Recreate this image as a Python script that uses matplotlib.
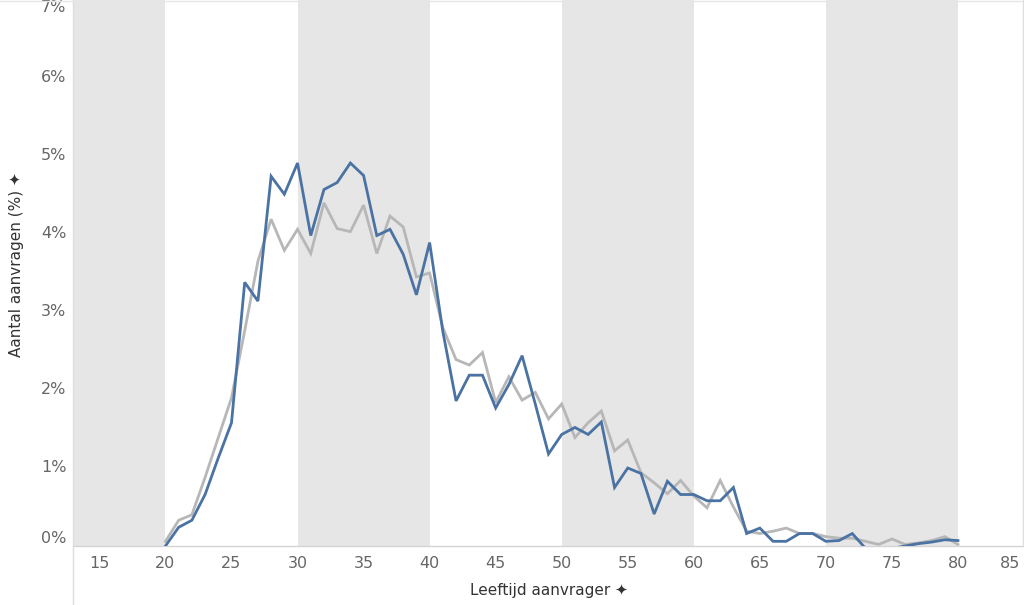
import matplotlib
matplotlib.use("Agg")
import matplotlib.pyplot as plt
from matplotlib.lines import Line2D

ages = list(range(20, 81))
blue_values = [0.00, 0.24, 0.33, 0.66, 1.13, 1.58, 3.38, 3.14, 4.74, 4.51,
               4.91, 3.98, 4.57, 4.66, 4.91, 4.75, 3.98, 4.06, 3.74, 3.22,
               3.89, 2.75, 1.86, 2.19, 2.19, 1.77, 2.07, 2.44, 1.82, 1.18,
               1.43, 1.52, 1.43, 1.59, 0.75, 1.00, 0.93, 0.41, 0.83, 0.66,
               0.66, 0.58, 0.58, 0.75, 0.16, 0.23, 0.06, 0.06, 0.16, 0.16,
               0.06, 0.07, 0.16, -0.03, -0.03, -0.03, 0.00, 0.03, 0.05, 0.08,
               0.07]
gray_values = [0.06, 0.33, 0.40, 0.88, 1.39, 1.90, 2.76, 3.65, 4.19, 3.79,
               4.06, 3.75, 4.40, 4.07, 4.03, 4.37, 3.75, 4.23, 4.09, 3.45,
               3.50, 2.80, 2.39, 2.32, 2.48, 1.84, 2.17, 1.87, 1.97, 1.63,
               1.82, 1.39, 1.58, 1.73, 1.22, 1.36, 0.94, 0.81, 0.67, 0.84,
               0.64, 0.49, 0.84, 0.50, 0.19, 0.16, 0.19, 0.23, 0.16, 0.16,
               0.12, 0.10, 0.10, 0.06, 0.02, 0.09, 0.02, 0.04, 0.07, 0.12,
               0.02]
band_starts = [13, 30, 50, 70]
band_ends = [20, 40, 60, 80]
x_ticks = [15, 20, 25, 30, 35, 40, 45, 50, 55, 60, 65, 70, 75, 80, 85]
y_ticks = [0, 1, 2, 3, 4, 5, 6, 7]
x_title = "Leeftijd aanvrager"
y_title = "Aantal aanvragen (%)"

fig = plt.figure(figsize=(10.24, 6.05), dpi=100)
ax = fig.add_axes([73/1024, 59/605, 1 - 73/1024, 546/605])

for s, e in zip(band_starts, band_ends):
    ax.axvspan(s, e, color="#e6e6e6", lw=0, zorder=0)

ax.plot(ages, gray_values, color="#b7b7b7", lw=2.0, zorder=2,
        solid_joinstyle="miter")
ax.plot(ages, blue_values, color="#4a72a3", lw=2.0, zorder=3,
        solid_joinstyle="miter")

ax.set_xlim(13, 85)
ax.set_ylim(0, 7)
ax.set_xticks([])
ax.set_yticks([])
for side in ["top", "right", "left"]:
    ax.spines[side].set_visible(False)
ax.spines["bottom"].set_color("#d4d4d4")
ax.spines["bottom"].set_linewidth(1.0)

tick_color = "#666666"
for v in y_ticks:
    va = "center"
    if v == 0:
        va = "bottom"
    elif v == 7:
        va = "top"
    ax.text(12.5, v, f"{v}%", ha="right", va=va,
            fontsize=11.5, color=tick_color, clip_on=False)

for v in x_ticks:
    xx = v
    if v == 85:
        xx = v - 1.05
    ax.text(xx, -0.225, str(v), ha="center", va="center", fontsize=11.5,
            color=tick_color, clip_on=False)

fig.text(0.5 + 73/2048, 15/605, x_title + " \u2726", ha="center", va="center",
         fontsize=11, color="#333333")
fig.text(17/1024, 1 - 265/605, y_title + " \u2726", ha="center", va="center",
         rotation=90, fontsize=11, color="#333333")

# frame lines
fig.add_artist(Line2D([73/1024, 73/1024], [0, 1], transform=fig.transFigure,
                      color="#dedede", lw=1.0))
fig.add_artist(Line2D([0, 1], [1 - 0.5/605, 1 - 0.5/605], transform=fig.transFigure,
                      color="#e6e6e6", lw=1.0))
fig.add_artist(Line2D([1 - 1/1024, 1 - 1/1024], [59/605, 1], transform=fig.transFigure,
                      color="#dedede", lw=1.0))

fig.savefig("out.png", dpi=100)
